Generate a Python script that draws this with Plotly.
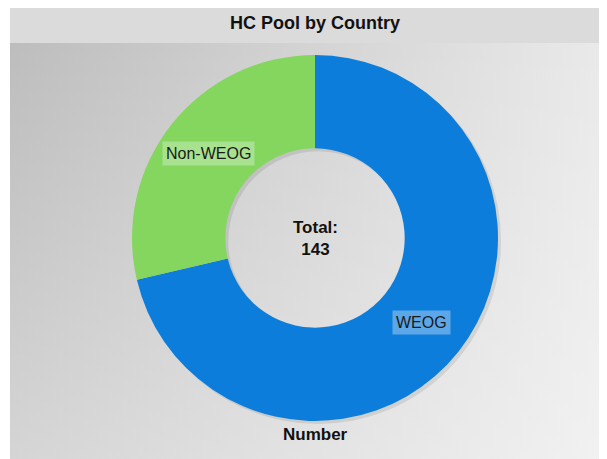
import math
import plotly.graph_objects as go

# ---- data ----
labels = ["WEOG", "Non-WEOG"]
values = [102, 41]
colors = ["#0d7ddc", "#84d65e"]
title_text = "HC Pool by Country"
axis_title = "Number"

# page offset (browser body margin) compensation
OFF = 8
W, H = 607, 459
FW, FH = W - OFF, H - OFF
panel = dict(x0=10, x1=607, y0=3, y1=459)
title_h = 40
cx, cy, R = 315, 238, 183
hole = 0.49

def dom_x(c, r):
    return [(c - OFF - r) / FW, (c - OFF + r) / FW]

def dom_y(c, r):
    return [(H - c - r) / FH, (H - c + r) / FH]

fig = go.Figure()

# background panel (horizontal gradient + vertical light overlay)
px = [panel["x0"], panel["x1"], panel["x1"], panel["x0"], panel["x0"]]
py = [panel["y0"] + title_h, panel["y0"] + title_h, panel["y1"], panel["y1"], panel["y0"] + title_h]
fig.add_trace(go.Scatter(x=px, y=py, mode="lines", line=dict(width=0), fill="toself",
                         fillgradient=dict(type="horizontal",
                                           colorscale=[[0, "#bdbdbd"], [1, "#eaeaea"]]),
                         hoverinfo="skip", showlegend=False))
fig.add_trace(go.Scatter(x=px, y=py, mode="lines", line=dict(width=0), fill="toself",
                         fillgradient=dict(type="vertical",
                                           colorscale=[[0, "rgba(255,255,255,0.36)"],
                                                       [1, "rgba(255,255,255,0)"]]),
                         hoverinfo="skip", showlegend=False))

# shadow ring
fig.add_trace(go.Pie(values=[sum(values)], labels=["shadow"], hole=hole, sort=False,
                     marker=dict(colors=["rgba(0,0,0,0.09)"], line=dict(width=0)),
                     textinfo="none", hoverinfo="skip", showlegend=False,
                     domain=dict(x=dom_x(cx + 3, R), y=dom_y(cy + 3, R))))

# donut
fig.add_trace(go.Pie(values=values, labels=labels, hole=hole, sort=False,
                     direction="clockwise", rotation=0,
                     marker=dict(colors=colors, line=dict(width=0)),
                     textinfo="none", hoverinfo="label+value", showlegend=False,
                     domain=dict(x=dom_x(cx, R), y=dom_y(cy, R))))

FONT = "Liberation Sans, Arial"

# slice labels positioned at slice mid-angles
total = sum(values)
r_mid = R * (1 + hole) / 2
label_bg = ["rgba(255,255,255,0.33)", "rgba(255,255,255,0.3)"]
start = 0.0
for lab, v, bg in zip(labels, values, label_bg):
    frac = v / total
    mid = (start + frac / 2) * 2 * math.pi
    start += frac
    lx = cx + r_mid * math.sin(mid)
    ly = cy - r_mid * math.cos(mid)
    fig.add_annotation(x=lx, y=ly, xref="x", yref="y", text=lab, showarrow=False,
                       font=dict(family=FONT, size=16, color="#1a1a1a"),
                       bgcolor=bg, borderpad=3)

fig.add_annotation(x=cx, y=cy, xref="x", yref="y", text=f"<b>Total:<br>{total}</b>",
                   showarrow=False, font=dict(family=FONT, size=17, color="#111"))
fig.add_annotation(x=cx, y=434, xref="x", yref="y", text=f"<b>{axis_title}</b>",
                   showarrow=False, font=dict(family=FONT, size=17, color="#111"))
fig.add_annotation(x=315, y=panel["y0"] + title_h / 2, xref="x", yref="y",
                   text=f"<b>{title_text}</b>", showarrow=False,
                   font=dict(family=FONT, size=18, color="#111"))

shapes = [
    dict(type="rect", xref="x", yref="y", x0=panel["x0"], x1=panel["x1"],
         y0=panel["y0"], y1=panel["y0"] + title_h, fillcolor="#dbdbdb",
         line=dict(width=0), layer="below"),
    dict(type="line", xref="x", yref="y", x0=panel["x0"], x1=panel["x1"],
         y0=panel["y0"], y1=panel["y0"], line=dict(color="#c9c9c9", width=1)),
]

fig.update_layout(
    width=FW, height=FH, margin=dict(l=0, r=0, t=0, b=0),
    paper_bgcolor="white", plot_bgcolor="rgba(0,0,0,0)",
    xaxis=dict(range=[OFF, W], visible=False, domain=[0, 1], fixedrange=True),
    yaxis=dict(range=[H, OFF], visible=False, domain=[0, 1], fixedrange=True),
    shapes=shapes, showlegend=False,
)

fig.write_html("out.html")
